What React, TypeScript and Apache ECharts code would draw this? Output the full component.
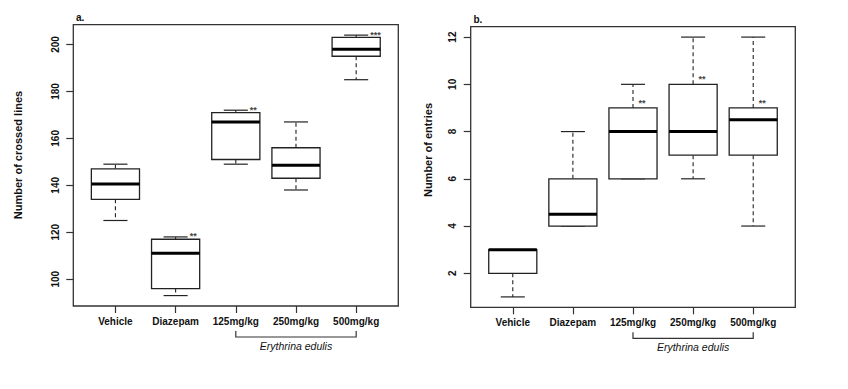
import React, { useEffect, useRef } from 'react';
import * as echarts from 'echarts';

const categories = ['Vehicle', 'Diazepam', '125mg/kg', '250mg/kg', '500mg/kg'];
const groupLabel = 'Erythrina edulis';

// Panel a: Number of crossed lines
const linesMin = [125, 93, 149, 138, 185];
const linesQ1 = [134, 96, 151, 143, 195];
const linesMedian = [140.5, 111, 167, 148.5, 198];
const linesQ3 = [147, 117, 171, 156, 203];
const linesMax = [149, 118, 172, 167, 204];
const linesSig = ['', '**', '**', '', '***'];
const linesTicks = [100, 120, 140, 160, 180, 200];

// Panel b: Number of entries
const entriesMin = [1, 4, 6, 6, 4];
const entriesQ1 = [2, 4, 6, 7, 7];
const entriesMedian = [3, 4.5, 8, 8, 8.5];
const entriesQ3 = [3, 6, 9, 10, 9];
const entriesMax = [3, 8, 10, 12, 12];
const entriesSig = ['', '', '**', '**', '**'];
const entriesTicks = [2, 4, 6, 8, 10, 12];

const FONT = 'Liberation Sans, Arial, Helvetica, sans-serif';
const INK = '#111';
const STROKE = '#222';
const catPos = categories.map((_, i) => i + 1);

function rows(mins: number[], q1: number[], md: number[], q3: number[], mx: number[]) {
  return mins.map((m, i) => [i + 1, m, q1[i], md[i], q3[i], mx[i]]);
}

function paddedRange(mins: number[], maxs: number[]) {
  const lo = Math.min(...mins);
  const hi = Math.max(...maxs);
  const pad = (hi - lo) * 0.04;
  return [lo - pad, hi + pad];
}

function makeRender(sig: string[], mode: 'whisker' | 'box') {
  return (params: any, api: any) => {
    const i = params.dataIndex;
    const x = api.value(0);
    const pMin = api.coord([x, api.value(1)]);
    const pQ1 = api.coord([x, api.value(2)]);
    const pMd = api.coord([x, api.value(3)]);
    const pQ3 = api.coord([x, api.value(4)]);
    const pMax = api.coord([x, api.value(5)]);
    const unit = api.size([1, 0])[0];
    const bw = unit * 0.8;
    const cx = pMd[0];
    const left = cx - bw / 2;
    const capHalf = bw / 4;
    const dash = { stroke: STROKE, lineWidth: 1.1, lineDash: [4, 3] };
    const solid = { stroke: STROKE, lineWidth: 1.2 };
    const children: any[] = [
      { type: 'line', shape: { x1: cx, y1: pQ3[1], x2: cx, y2: pMax[1] }, style: dash },
      { type: 'line', shape: { x1: cx, y1: pQ1[1], x2: cx, y2: pMin[1] }, style: dash },
      { type: 'line', shape: { x1: cx - capHalf, y1: pMax[1], x2: cx + capHalf, y2: pMax[1] }, style: solid },
      { type: 'line', shape: { x1: cx - capHalf, y1: pMin[1], x2: cx + capHalf, y2: pMin[1] }, style: solid },
      {
        type: 'rect',
        shape: { x: left, y: pQ3[1], width: bw, height: pQ1[1] - pQ3[1] },
        style: { fill: '#fff', stroke: STROKE, lineWidth: 1.3 },
      },
      { type: 'line', shape: { x1: left, y1: pMd[1], x2: left + bw, y2: pMd[1] }, style: { stroke: '#000', lineWidth: 3 } },
    ];
    if (sig[i]) {
      const tx = mode === 'whisker' ? cx + capHalf + 2 : cx + 5.5;
      const ty = mode === 'whisker' ? pMax[1] - 0.5 : pQ3[1] - 5;
      children.push({
        type: 'text',
        x: tx,
        y: ty,
        style: {
          text: sig[i],
          fill: '#444',
          fontSize: 9,
          fontWeight: 'bold',
          fontFamily: FONT,
          align: 'left',
          verticalAlign: 'middle',
        },
      });
    }
    return { type: 'group', children };
  };
}

const grids = [
  { left: 73.3, top: 24.7, width: 325, height: 281.3 },
  { left: 470.7, top: 26.7, width: 324.6, height: 280.6 },
];

export default function App() {
  const ref = useRef<HTMLDivElement>(null);
  useEffect(() => {
    if (!ref.current) return;
    const chart = echarts.init(ref.current, undefined, { renderer: 'svg' });
    const rangeA = paddedRange(linesMin, linesMax);
    const rangeB = paddedRange(entriesMin, entriesMax);
    const xAxis = (gridIndex: number) => ({
      gridIndex,
      type: 'value',
      min: 0.3,
      max: 5.7,
      axisLine: { show: false },
      splitLine: { show: false },
      axisTick: { show: true, customValues: catPos, length: 7, lineStyle: { color: '#333', width: 1.2 } },
      axisLabel: {
        customValues: catPos,
        formatter: (v: number) => categories[Math.round(v) - 1] ?? '',
        fontSize: 10,
        fontWeight: 'bold',
        fontFamily: FONT,
        color: INK,
        margin: 10,
      },
    });
    const yAxis = (gridIndex: number, range: number[], ticks: number[]) => ({
      gridIndex,
      type: 'value',
      min: range[0],
      max: range[1],
      axisLine: { show: false },
      splitLine: { show: false },
      axisTick: { show: true, customValues: ticks, length: 7, lineStyle: { color: '#333', width: 1.2 } },
      axisLabel: {
        customValues: ticks,
        rotate: 90,
        fontSize: 10,
        fontWeight: 'bold',
        fontFamily: FONT,
        color: INK,
        margin: 13,
      },
    });
    chart.setOption({
      animation: false,
      backgroundColor: '#fff',
      grid: grids.map((g) => ({
        ...g,
        show: true,
        borderColor: '#333',
        borderWidth: 1.3,
        backgroundColor: 'transparent',
        outerBoundsMode: 'none',
      })),
      xAxis: [xAxis(0), xAxis(1)],
      yAxis: [yAxis(0, rangeA, linesTicks), yAxis(1, rangeB, entriesTicks)],
      series: [
        {
          type: 'custom',
          xAxisIndex: 0,
          yAxisIndex: 0,
          clip: false,
          encode: { x: 0, y: [1, 2, 3, 4, 5] },
          data: rows(linesMin, linesQ1, linesMedian, linesQ3, linesMax),
          renderItem: makeRender(linesSig, 'whisker'),
        },
        {
          type: 'custom',
          xAxisIndex: 1,
          yAxisIndex: 1,
          clip: false,
          encode: { x: 0, y: [1, 2, 3, 4, 5] },
          data: rows(entriesMin, entriesQ1, entriesMedian, entriesQ3, entriesMax),
          renderItem: makeRender(entriesSig, 'box'),
        },
      ],
    });

    const graphics: any[] = [];
    const txt = (text: string, x: number, y: number, extra: any = {}, rot = 0) => ({
      type: 'text',
      x,
      y,
      rotation: rot,
      style: {
        text,
        fill: INK,
        fontFamily: FONT,
        fontSize: 10,
        fontWeight: 'bold',
        align: 'left',
        verticalAlign: 'middle',
        ...extra,
      },
    });
    graphics.push(txt('a.', 76, 17));
    graphics.push(txt('b.', 473.5, 19));
    graphics.push(txt('Number of crossed lines', 18, 155, { fontSize: 11, align: 'center' }, Math.PI / 2));
    graphics.push(txt('Number of entries', 428, 150, { fontSize: 11, align: 'center' }, Math.PI / 2));
    [0, 1].forEach((gi) => {
      const x3 = chart.convertToPixel({ xAxisIndex: gi }, 3) as number;
      const x5 = chart.convertToPixel({ xAxisIndex: gi }, 5) as number;
      const yb = grids[gi].top + grids[gi].height + 31;
      graphics.push({
        type: 'polyline',
        shape: { points: [[x3, yb - 6], [x3, yb], [x5, yb], [x5, yb - 6]] },
        style: { stroke: '#333', lineWidth: 1.2, fill: 'none' },
      });
      graphics.push(
        txt(groupLabel, (x3 + x5) / 2, yb + 9, { fontSize: 10.5, fontWeight: 'normal', fontStyle: 'italic', align: 'center' })
      );
    });
    chart.setOption({ graphic: graphics });
    return () => chart.dispose();
  }, []);
  return <div ref={ref} style={{ position: 'fixed', left: 0, top: 0, width: 848, height: 389 }} />;
}
